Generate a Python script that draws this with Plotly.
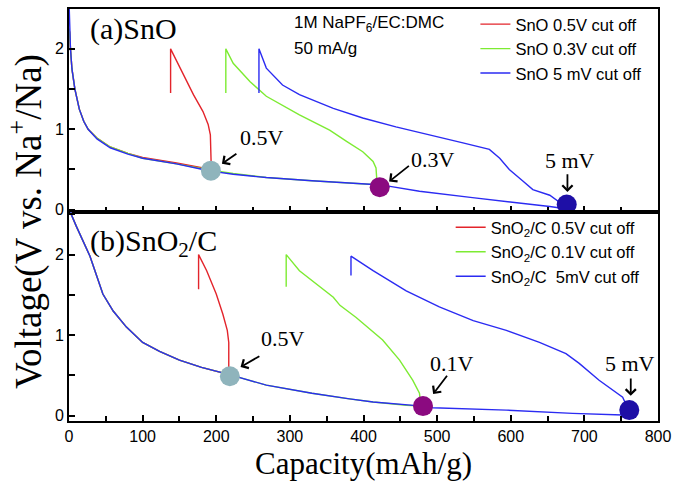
import plotly.graph_objects as go

# ---------------- (a) SnO : discharge then charge (capacity runs back) ----------------
sno_05_cap = [0, 1, 2, 4, 8, 14, 20, 26, 38, 56, 80, 100, 146, 182, 193,
              193, 192, 189, 182, 169, 151, 138, 138]
sno_05_v = [2.25, 2.2, 2.0, 1.75, 1.5, 1.25, 1.1, 1.0, 0.89, 0.78, 0.70, 0.65, 0.58, 0.52, 0.50,
            0.60, 0.93, 1.06, 1.22, 1.43, 1.76, 2.0, 1.45]

sno_03_cap = [0, 1, 2, 4, 8, 14, 20, 26, 38, 56, 80, 100, 146, 182, 193, 223, 268, 330, 381, 418,
              418, 417, 413, 399, 377, 354, 313, 268, 246, 223, 213, 213]
sno_03_v = [2.25, 2.2, 2.0, 1.75, 1.5, 1.25, 1.1, 1.0, 0.89, 0.78, 0.70, 0.64, 0.57, 0.51, 0.49, 0.45, 0.40, 0.36, 0.33, 0.31,
            0.38, 0.52, 0.60, 0.72, 0.85, 0.99, 1.18, 1.41, 1.59, 1.82, 2.0, 1.45]

sno_5mv_cap = [0, 1, 2, 4, 8, 14, 20, 26, 38, 56, 80, 100, 146, 182, 193, 223, 268, 330, 381, 420, 436, 476, 548, 600, 653, 672,
               668, 653, 630, 616, 598, 585, 571, 535, 490, 444, 399, 359, 313, 290, 268, 258, 258]
sno_5mv_v = [2.6, 2.3, 2.0, 1.75, 1.5, 1.25, 1.1, 1.0, 0.88, 0.77, 0.69, 0.64, 0.57, 0.50, 0.48, 0.44, 0.40, 0.36, 0.33, 0.31, 0.29, 0.23, 0.15, 0.10, 0.04, 0.015,
             0.08, 0.18, 0.25, 0.36, 0.50, 0.64, 0.75, 0.83, 0.93, 1.03, 1.14, 1.26, 1.43, 1.55, 1.76, 2.0, 1.45]

# ---------------- (b) SnO2/C ----------------
sno2_05_cap = [0, 3, 10, 19, 28.5, 46, 60, 78, 100, 123, 150, 180, 218,
               217, 217, 215, 209, 200, 187, 176, 176]
sno2_05_v = [2.7, 2.5, 2.35, 2.17, 1.98, 1.51, 1.30, 1.10, 0.91, 0.80, 0.69, 0.60, 0.51,
             0.55, 0.91, 1.06, 1.26, 1.51, 1.80, 2.0, 1.57]

sno2_01_cap = [0, 3, 10, 19, 28.5, 46, 60, 78, 100, 123, 150, 180, 218, 268, 330, 381, 413, 458, 480,
               477, 476, 467, 449, 426, 390, 368, 359, 313, 295, 295]
sno2_01_v = [2.7, 2.5, 2.35, 2.17, 1.98, 1.51, 1.30, 1.10, 0.91, 0.80, 0.69, 0.60, 0.51, 0.38, 0.28, 0.21, 0.17, 0.13, 0.12,
             0.20, 0.28, 0.44, 0.69, 0.94, 1.22, 1.37, 1.47, 1.80, 2.0, 1.60]

sno2_5mv_cap = [0, 3, 10, 19, 28.5, 46, 60, 78, 100, 123, 150, 180, 218, 268, 330, 381, 413, 480, 494, 594, 684, 752, 760,
                757, 752, 720, 693, 675, 639, 594, 549, 503, 458, 413, 383, 383]
sno2_5mv_v = [2.7, 2.5, 2.35, 2.17, 1.98, 1.51, 1.30, 1.10, 0.91, 0.80, 0.69, 0.60, 0.51, 0.38, 0.28, 0.21, 0.17, 0.12, 0.10, 0.07, 0.03, 0.01, 0.01,
              0.13, 0.23, 0.44, 0.65, 0.77, 0.91, 1.06, 1.18, 1.35, 1.55, 1.80, 1.98, 1.74]

# cut-off end points (highlighted circles)
cut_a_cap = [192.7, 422, 676]
cut_a_v = [0.485, 0.28, 0.065]
cut_b_cap = [218.5, 480.8, 761]
cut_b_v = [0.49, 0.12, 0.07]

names_a = ["SnO 0.5V cut off", "SnO 0.3V cut off", "SnO 5 mV cut off"]
names_b = ["SnO<sub>2</sub>/C 0.5V cut off", "SnO<sub>2</sub>/C 0.1V cut off",
           "SnO<sub>2</sub>/C \u00a05mV cut off"]
labels_a = ["0.5V", "0.3V", "5 mV"]
labels_b = ["0.5V", "0.1V", "5 mV"]

x_ticks = [0, 100, 200, 300, 400, 500, 600, 700, 800]

line_colors = ["#E3242B", "#7DEB32", "#2B2BF2"]
dot_colors = ["#8FB4BC", "#8B0A80", "#1E0FA6"]

SERIF = "Liberation Serif"
SANS = "Liberation Sans"

fig = go.Figure()

series_a = [(sno_05_cap, sno_05_v), (sno_03_cap, sno_03_v), (sno_5mv_cap, sno_5mv_v)]
series_b = [(sno2_05_cap, sno2_05_v), (sno2_01_cap, sno2_01_v), (sno2_5mv_cap, sno2_5mv_v)]

for (cx, cy), name, col in zip(series_a, names_a, line_colors):
    fig.add_trace(go.Scatter(x=cx, y=cy, mode="lines", name=name,
                             line=dict(color=col, width=1.4),
                             xaxis="x", yaxis="y", legend="legend"))
for (cx, cy), name, col in zip(series_b, names_b, line_colors):
    fig.add_trace(go.Scatter(x=cx, y=cy, mode="lines", name=name,
                             line=dict(color=col, width=1.4),
                             xaxis="x2", yaxis="y2", legend="legend2"))

fig.add_trace(go.Scatter(x=cut_a_cap, y=cut_a_v, mode="markers", showlegend=False,
                         marker=dict(size=20, color=dot_colors, line=dict(width=0)),
                         xaxis="x", yaxis="y"))
fig.add_trace(go.Scatter(x=cut_b_cap, y=cut_b_v, mode="markers", showlegend=False,
                         marker=dict(size=20, color=dot_colors, line=dict(width=0)),
                         xaxis="x2", yaxis="y2"))

# arrows (tail -> head) and their labels
arrows_a = [((229.4, 0.71), (207.7, 0.57)), ((463.7, 0.56), (434.8, 0.35)), ((677, 0.46), (677, 0.22))]
text_a = [(261.6, 0.90), (494.6, 0.63), (680, 0.61)]
arrows_b = [((260.6, 0.75), (233, 0.605)), ((515, 0.515), (494.6, 0.27)), ((763, 0.48), (763, 0.247))]
text_b = [(290.5, 0.96), (519.6, 0.65), (761.6, 0.65)]

annotations = []
for arrows, texts, labels, xr, yr in [(arrows_a, text_a, labels_a, "x", "y"),
                                      (arrows_b, text_b, labels_b, "x2", "y2")]:
    for (tail, head), tpos, lab in zip(arrows, texts, labels):
        annotations.append(dict(x=head[0], y=head[1], ax=tail[0], ay=tail[1],
                                xref=xr, yref=yr, axref=xr, ayref=yr, text="",
                                showarrow=True, arrowhead=4, arrowsize=1.1,
                                arrowwidth=1.8, arrowcolor="black"))
        annotations.append(dict(x=tpos[0], y=tpos[1], xref=xr, yref=yr, text=lab,
                                showarrow=False, font=dict(family=SERIF, size=22, color="black")))

annotations += [
    dict(x=25.8, y=2.25, xref="x", yref="y", text="(a)SnO", showarrow=False,
         xanchor="left", yanchor="middle", font=dict(family=SERIF, size=30, color="black")),
    dict(x=25.8, y=2.14, xref="x2", yref="y2", text="(b)SnO<sub>2</sub>/C", showarrow=False,
         xanchor="left", yanchor="middle", font=dict(family=SERIF, size=30, color="black")),
    dict(x=303, y=2.31, xref="x", yref="y", text="1M NaPF<sub>6</sub>/EC:DMC", showarrow=False,
         xanchor="left", yanchor="middle", font=dict(family=SANS, size=17, color="black")),
    dict(x=303, y=2.0, xref="x", yref="y", text="50 mA/g", showarrow=False,
         xanchor="left", yanchor="middle", font=dict(family=SANS, size=17, color="black")),
    dict(x=-0.073, y=0.483, xref="paper", yref="paper", textangle=-90,
         text="Voltage(V vs. Na<sup>+</sup>/Na)", showarrow=False,
         xanchor="center", yanchor="middle", font=dict(family=SERIF, size=37, color="black")),
]

axis_common = dict(showline=True, linecolor="black", linewidth=2, mirror=True,
                   showgrid=False, zeroline=False, ticks="inside", ticklen=6,
                   tickwidth=1.5, tickcolor="black",
                   tickfont=dict(family=SANS, size=16, color="black"))

fig.update_layout(
    width=692, height=490,
    margin=dict(l=69, r=34, t=7, b=69),
    paper_bgcolor="white", plot_bgcolor="white",
    xaxis=dict(axis_common, domain=[0, 1], range=[0, 800], anchor="y",
               tickvals=x_ticks, showticklabels=False,
               minor=dict(ticks="inside", dtick=50, ticklen=5, tickcolor="black", tickwidth=1.5)),
    yaxis=dict(axis_common, domain=[0.507, 1], range=[-0.03, 2.495], anchor="x",
               tickvals=[0, 1, 2],
               minor=dict(ticks="inside", dtick=0.5, ticklen=6, tickcolor="black", tickwidth=1.5)),
    xaxis2=dict(axis_common, domain=[0, 1], range=[0, 800], anchor="y2",
                tickvals=x_ticks, ticktext=[str(v) for v in x_ticks],
                minor=dict(ticks="inside", dtick=50, ticklen=5, tickcolor="black", tickwidth=1.5),
                title=dict(text="Capacity(mAh/g)", standoff=8,
                           font=dict(family=SERIF, size=31, color="black"))),
    yaxis2=dict(axis_common, domain=[0, 0.507], range=[-0.065, 2.527], anchor="x2",
                tickvals=[0, 1, 2],
                minor=dict(ticks="inside", dtick=0.5, ticklen=6, tickcolor="black", tickwidth=1.5)),
    legend=dict(x=0.69, y=1.005, xanchor="left", yanchor="top", bgcolor="rgba(0,0,0,0)",
                font=dict(family=SANS, size=16.5, color="black"), tracegroupgap=0),
    legend2=dict(x=0.648, y=0.512, xanchor="left", yanchor="top", bgcolor="rgba(0,0,0,0)",
                 font=dict(family=SANS, size=16.5, color="black"), tracegroupgap=0),
    annotations=annotations,
    showlegend=True,
)

fig.write_html("out.html")
